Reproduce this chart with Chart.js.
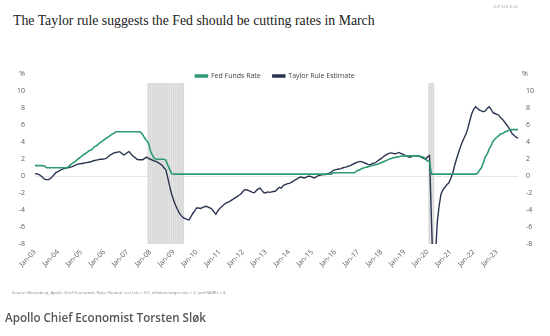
<!DOCTYPE html>
<html>
<head>
<meta charset="utf-8">
<script src="https://cdn.jsdelivr.net/npm/chart.js@4.4.1/dist/chart.umd.min.js"></script>
<style>
  html, body { margin: 0; padding: 0; background: #fff; }
  #contenedor { position: relative; width: 550px; height: 336px; overflow: hidden; }
  #chartTaylor { position: absolute; left: 0; top: 0; }
  .titulo { position: absolute; left: 13px; top: 12px; line-height: 18px; font-family: "Liberation Serif", serif; font-size: 13.8px; color: #222; white-space: nowrap; }
  .marca { position: absolute; left: 493px; top: 4px; line-height: 6px; font-family: "Liberation Serif", serif; font-size: 5px; letter-spacing: 1px; color: #999; }
  .fuente { position: absolute; left: 12px; top: 290px; line-height: 6px; font-family: "Open Sans", sans-serif; font-size: 4.1px; color: #888; white-space: nowrap; }
  .autor { position: absolute; left: 5px; top: 310px; line-height: 16px; font-family: "Open Sans", sans-serif; font-size: 11.6px; font-weight: 600; color: #555; white-space: nowrap; }
</style>
</head>
<body>
<div id="contenedor">
  <div class="titulo">The Taylor rule suggests the Fed should be cutting rates in March</div>
  <div class="marca">APOLLO</div>
  <canvas id="chartTaylor" width="550" height="336"></canvas>
  <div class="fuente">Source: Bloomberg, Apollo Chief Economist. Note: Neutral real rate = 0.5, inflation target rate = 2, and NAIRU = 4.</div>
  <div class="autor">Apollo Chief Economist Torsten Sløk</div>
</div>
<script>
/* AQUI LOS DATOS: meses de enero 2003 a diciembre 2023 */
const anios = [2003, 2004, 2005, 2006, 2007, 2008, 2009, 2010, 2011, 2012, 2013,
  2014, 2015, 2016, 2017, 2018, 2019, 2020, 2021, 2022, 2023];
const meses = ["Jan", "Feb", "Mar", "Apr", "May", "Jun", "Jul", "Aug", "Sep", "Oct", "Nov", "Dec"];

// Fed Funds Rate, mensual (%)
const fedFunds = [
  1.25, 1.25, 1.25, 1.25, 1.25, 1.2, 1.0, 1.0, 1.0, 1.0, 1.0, 1.0,
  1.0, 1.0, 1.0, 1.0, 1.0, 1.05, 1.25, 1.45, 1.6, 1.75, 1.95, 2.15,
  2.3, 2.5, 2.65, 2.8, 3.0, 3.05, 3.25, 3.5, 3.6, 3.8, 4.0, 4.15,
  4.3, 4.5, 4.6, 4.8, 4.95, 5.05, 5.25, 5.25, 5.25, 5.25, 5.25, 5.25,
  5.25, 5.25, 5.25, 5.25, 5.25, 5.25, 5.25, 5.2, 4.9, 4.5, 4.2, 3.9,
  3.0, 2.5, 2.1, 2.0, 2.0, 2.0, 2.0, 2.0, 1.9, 1.3, 0.8, 0.3,
  0.25, 0.25, 0.25, 0.25, 0.25, 0.25, 0.25, 0.25, 0.25, 0.25, 0.25, 0.25,
  0.25, 0.25, 0.25, 0.25, 0.25, 0.25, 0.25, 0.25, 0.25, 0.25, 0.25, 0.25,
  0.25, 0.25, 0.25, 0.25, 0.25, 0.25, 0.25, 0.25, 0.25, 0.25, 0.25, 0.25,
  0.25, 0.25, 0.25, 0.25, 0.25, 0.25, 0.25, 0.25, 0.25, 0.25, 0.25, 0.25,
  0.25, 0.25, 0.25, 0.25, 0.25, 0.25, 0.25, 0.25, 0.25, 0.25, 0.25, 0.25,
  0.25, 0.25, 0.25, 0.25, 0.25, 0.25, 0.25, 0.25, 0.25, 0.25, 0.25, 0.25,
  0.25, 0.25, 0.25, 0.25, 0.25, 0.25, 0.25, 0.25, 0.25, 0.25, 0.25, 0.4,
  0.4, 0.4, 0.4, 0.4, 0.4, 0.4, 0.4, 0.4, 0.4, 0.4, 0.4, 0.6,
  0.7, 0.8, 0.9, 1.0, 1.05, 1.1, 1.2, 1.25, 1.3, 1.35, 1.4, 1.5,
  1.6, 1.7, 1.8, 1.9, 2.0, 2.1, 2.15, 2.2, 2.25, 2.3, 2.35, 2.35,
  2.4, 2.4, 2.4, 2.4, 2.4, 2.4, 2.4, 2.4, 2.35, 2.3, 2.25, 2.0,
  1.8, 1.75, 0.25, 0.25, 0.25, 0.25, 0.25, 0.25, 0.25, 0.25, 0.25, 0.25,
  0.25, 0.25, 0.25, 0.25, 0.25, 0.25, 0.25, 0.25, 0.25, 0.25, 0.25, 0.25,
  0.25, 0.25, 0.35, 0.7, 1.0, 1.6, 2.3, 2.6, 3.2, 3.6, 4.1, 4.4,
  4.6, 4.8, 5.0, 5.05, 5.2, 5.3, 5.4, 5.5, 5.5, 5.5, 5.5, 5.5
];

// Taylor Rule Estimate, mensual (%)
const taylorRule = [
  0.25, 0.3, 0.2, 0.05, -0.15, -0.35, -0.4, -0.4, -0.3, -0.05, 0.2, 0.45,
  0.55, 0.7, 0.8, 0.9, 0.95, 1.0, 1.05, 1.1, 1.2, 1.3, 1.4, 1.45,
  1.5, 1.5, 1.6, 1.6, 1.65, 1.7, 1.8, 1.85, 1.9, 1.95, 2.0, 2.0,
  2.05, 2.1, 2.3, 2.5, 2.6, 2.75, 2.8, 2.85, 2.9, 2.7, 2.5, 2.6,
  2.8, 2.9, 2.6, 2.35, 2.2, 2.0, 1.95, 1.95, 1.95, 2.1, 2.25, 2.1,
  2.0, 1.9, 1.8, 1.75, 1.6, 1.45, 1.3, 1.0, 0.75, -0.2, -1.2, -2.1,
  -2.8, -3.4, -3.9, -4.35, -4.65, -4.9, -5.0, -5.1, -5.15, -4.8, -4.4, -4.1,
  -3.75, -3.75, -3.8, -3.7, -3.6, -3.55, -3.65, -3.75, -3.9, -4.2, -4.5, -4.1,
  -3.8, -3.6, -3.4, -3.2, -3.1, -3.0, -2.85, -2.7, -2.55, -2.4, -2.25, -2.1,
  -1.8, -1.6, -1.6, -1.7, -1.8, -1.9, -1.95, -1.7, -1.5, -1.4, -1.7, -1.95,
  -1.95, -1.85, -1.9, -1.85, -1.8, -1.75, -1.5, -1.3, -1.4, -1.1, -1.0, -0.9,
  -0.85, -0.75, -0.6, -0.45, -0.35, -0.2, -0.1, -0.15, -0.2, -0.1, 0.0, 0.0,
  -0.1, -0.2, -0.1, 0.05, 0.1, 0.15, 0.2, 0.2, 0.3, 0.35, 0.5, 0.7,
  0.75, 0.8, 0.85, 0.9, 1.0, 1.05, 1.1, 1.2, 1.25, 1.4, 1.5, 1.6,
  1.7, 1.75, 1.7, 1.6, 1.5, 1.4, 1.35, 1.45, 1.55, 1.6, 1.8, 1.95,
  2.1, 2.3, 2.45, 2.6, 2.7, 2.75, 2.7, 2.65, 2.7, 2.8, 2.7, 2.6,
  2.5, 2.4, 2.3, 2.25, 2.35, 2.45, 2.4, 2.35, 2.35, 2.2, 2.1, 2.0,
  2.3, 2.45, -5.0, -12.0, -10.0, -5.5, -3.5, -2.1, -1.6, -1.3, -1.0, -0.8,
  -0.3, 0.3, 1.2, 2.0, 2.7, 3.4, 4.0, 4.5, 5.0, 5.7, 6.6, 7.4,
  7.9, 8.2, 8.0, 7.8, 7.7, 7.6, 7.7, 8.0, 8.2, 7.9, 7.5, 7.4,
  7.3, 7.2, 6.9, 6.7, 6.4, 6.1, 5.8, 5.4, 5.0, 4.8, 4.6, 4.5
];

// Periodos de recesion (sombreado gris)
const recesiones = [["Dec-07", "Jun-09"], ["Feb-20", "Apr-20"]];

// Escala vertical
const yMin = -8;
const yMax = 11;
const yPaso = 2;

/* ETIQUETAS DE CATEGORIA: Jan-03, Feb-03 ... */
const etiquetas = [];
anios.forEach((anio) => {
  meses.forEach((mes) => {
    etiquetas.push(`${mes}-${String(anio).slice(2)}`);
  });
});

const datosRecesion = etiquetas.map((etq, i) => {
  const dentro = recesiones.some(([ini, fin]) =>
    i >= etiquetas.indexOf(ini) && i <= etiquetas.indexOf(fin));
  return dentro ? [yMin, yMax] : null;
});

const verde = "#2e9a74";
const marino = "#2a3352";
const fuenteEjes = { family: "'Open Sans', sans-serif", size: 7 };
const colorTexto = "#5a5a5a";

/* signo de porcentaje encima de cada eje */
const signoPorcentaje = {
  id: "signoPorcentaje",
  afterDraw(chart) {
    const { ctx, chartArea, scales } = chart;
    ctx.save();
    ctx.font = "7px 'Open Sans', sans-serif";
    ctx.fillStyle = colorTexto;
    ctx.textBaseline = "middle";
    ctx.textAlign = "right";
    ctx.fillText("%", scales.y.right - 10, chartArea.top - 9);
    ctx.textAlign = "left";
    ctx.fillText("%", scales.y2.left + 4, chartArea.top - 9);
    ctx.restore();
  },
};

const canvas = document.getElementById("chartTaylor");
const context = canvas.getContext("2d");

const chartTaylor = new Chart(context, {
  type: "line",
  data: {
    labels: etiquetas,
    datasets: [
      {
        label: "Fed Funds Rate",
        data: fedFunds,
        borderColor: verde,
        backgroundColor: verde,
        borderWidth: 1.6,
        pointRadius: 0,
        tension: 0,
        order: 0,
        yAxisID: "y",
      },
      {
        label: "Taylor Rule Estimate",
        data: taylorRule,
        borderColor: marino,
        backgroundColor: marino,
        borderWidth: 1.4,
        pointRadius: 0,
        tension: 0,
        order: 1,
        yAxisID: "y",
      },
      {
        type: "bar",
        label: "Recesion",
        data: datosRecesion,
        backgroundColor: "#d9d9d9",
        borderColor: "#e6e6e6",
        borderWidth: { left: 0.5, right: 0, top: 0, bottom: 0 },
        borderSkipped: false,
        barPercentage: 1,
        categoryPercentage: 1,
        order: 2,
        yAxisID: "y",
      },
    ],
  },
  options: {
    responsive: false,
    animation: false,
    layout: { padding: { top: 60.5, bottom: 52, left: 0, right: 0 } },
    plugins: {
      tooltip: { enabled: false },
      legend: {
        position: "top",
        align: "center",
        maxHeight: 22.5,
        labels: {
          boxWidth: 12,
          boxHeight: 2,
          padding: 12,
          color: "#444",
          font: fuenteEjes,
          filter: (item) => item.text !== "Recesion",
        },
      },
    },
    scales: {
      x: {
        offset: false,
        grid: { display: false, drawTicks: false },
        border: { display: false },
        afterFit: (escala) => { escala.height = 40; },
        ticks: {
          autoSkip: false,
          minRotation: 45,
          maxRotation: 45,
          padding: 4,
          color: colorTexto,
          font: fuenteEjes,
          callback: function (valor) {
            const etq = this.getLabelForValue(valor);
            return etq.startsWith("Jan") ? etq : null;
          },
        },
      },
      y: {
        position: "left",
        min: yMin,
        max: yMax,
        afterFit: (escala) => { escala.width = 35; },
        afterBuildTicks: (escala) => {
          escala.ticks = escala.ticks.filter((t) => t.value % yPaso === 0);
        },
        grid: {
          drawTicks: false,
          color: (ctx) => (ctx.tick && ctx.tick.value === 0 ? "#e6e6e6" : "rgba(0,0,0,0)"),
        },
        border: { display: false },
        ticks: { stepSize: yPaso, padding: 10, color: colorTexto, font: fuenteEjes },
      },
      y2: {
        position: "right",
        min: yMin,
        max: yMax,
        afterFit: (escala) => { escala.width = 32; },
        afterBuildTicks: (escala) => {
          escala.ticks = escala.ticks.filter((t) => t.value % yPaso === 0);
        },
        grid: { display: false, drawTicks: false },
        border: { display: false },
        ticks: { stepSize: yPaso, padding: 8, color: colorTexto, font: fuenteEjes },
      },
    },
  },
  plugins: [signoPorcentaje],
});
</script>
</body>
</html>
